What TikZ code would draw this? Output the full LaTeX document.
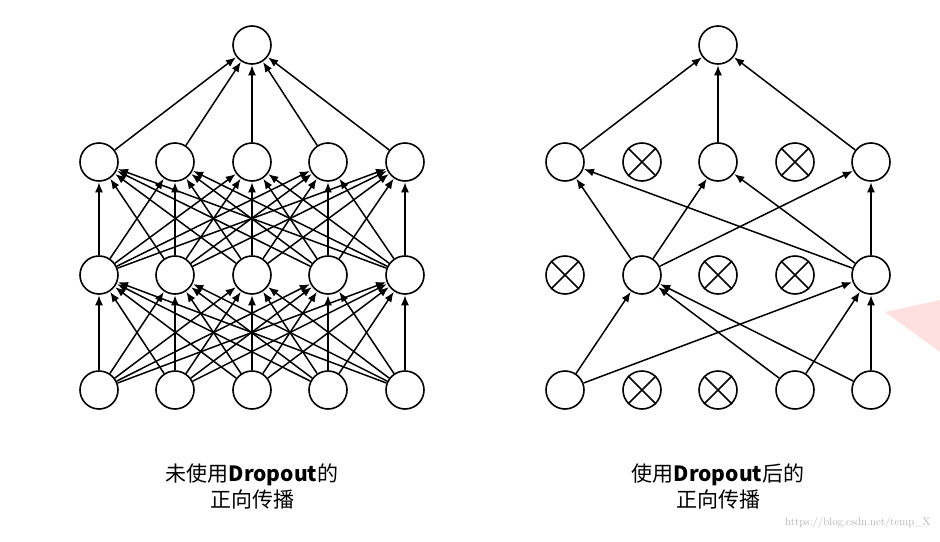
\documentclass[tikz,border=0pt]{standalone}
\usepackage{fontspec}
\newfontfamily\cjk{Noto Sans CJK SC}
\usetikzlibrary{arrows.meta}
\begin{document}
\begin{tikzpicture}[x=1pt,y=-1pt,
  neuron/.style={circle,draw,line width=1.6pt,minimum size=38pt,inner sep=0pt},
  conn/.style={line width=1.5pt,-{Latex[length=10pt,width=8pt]},shorten >=0.5pt},
  lbl/.style={font=\cjk\fontsize{21}{26}\selectfont,align=center}]
\useasboundingbox (0,0) rectangle (940,541);
\fill[white] (0,0) rectangle (940,541);
\fill[red!12] (885,312) -- (940,300) -- (940,352) -- cycle;
% left network
\foreach \i/\x in {1/99,2/175,3/252,4/328,5/405}{
  \node[neuron] (a\i) at (\x,390) {};
  \node[neuron] (b\i) at (\x,275) {};
  \node[neuron] (c\i) at (\x,162) {};
}
\node[neuron] (lt) at (252,45) {};
\foreach \i in {1,...,5}{\foreach \j in {1,...,5}{
  \draw[conn] (a\i) -- (b\j);
  \draw[conn] (b\i) -- (c\j);}
  \draw[conn] (c\i) -- (lt);}
% right network
\foreach \i/\x in {1/565,2/642,3/718,4/795,5/871}{
  \node[neuron] (p\i) at (\x,390) {};
  \node[neuron] (q\i) at (\x,275) {};
  \node[neuron] (r\i) at (\x,162) {};
}
\node[neuron] (rt) at (718,45) {};
\foreach \n in {p2,p3,q1,q3,q4,r2,r4}{
  \draw[line width=1.6pt] (\n.45) -- (\n.225) (\n.135) -- (\n.315);}
\foreach \s/\t in {p1/q2,p1/q5,p4/q2,p5/q2,p4/q5,p5/q5,
  q2/r1,q2/r3,q2/r5,q5/r1,q5/r3,q5/r5,r1/rt,r3/rt,r5/rt}
  \draw[conn] (\s) -- (\t);
\node[lbl] (l1) at (252,486) {未使用\textbf{Dropout}的\\正向传播};
\node[lbl] (l2) at (718,486) {使用\textbf{Dropout}后的\\正向传播};
\node[font=\fontsize{11}{12}\selectfont,text=black!30,anchor=east] (wm) at (934,523) {https://blog.csdn.net/temp\_X};
\end{tikzpicture}
\end{document}
